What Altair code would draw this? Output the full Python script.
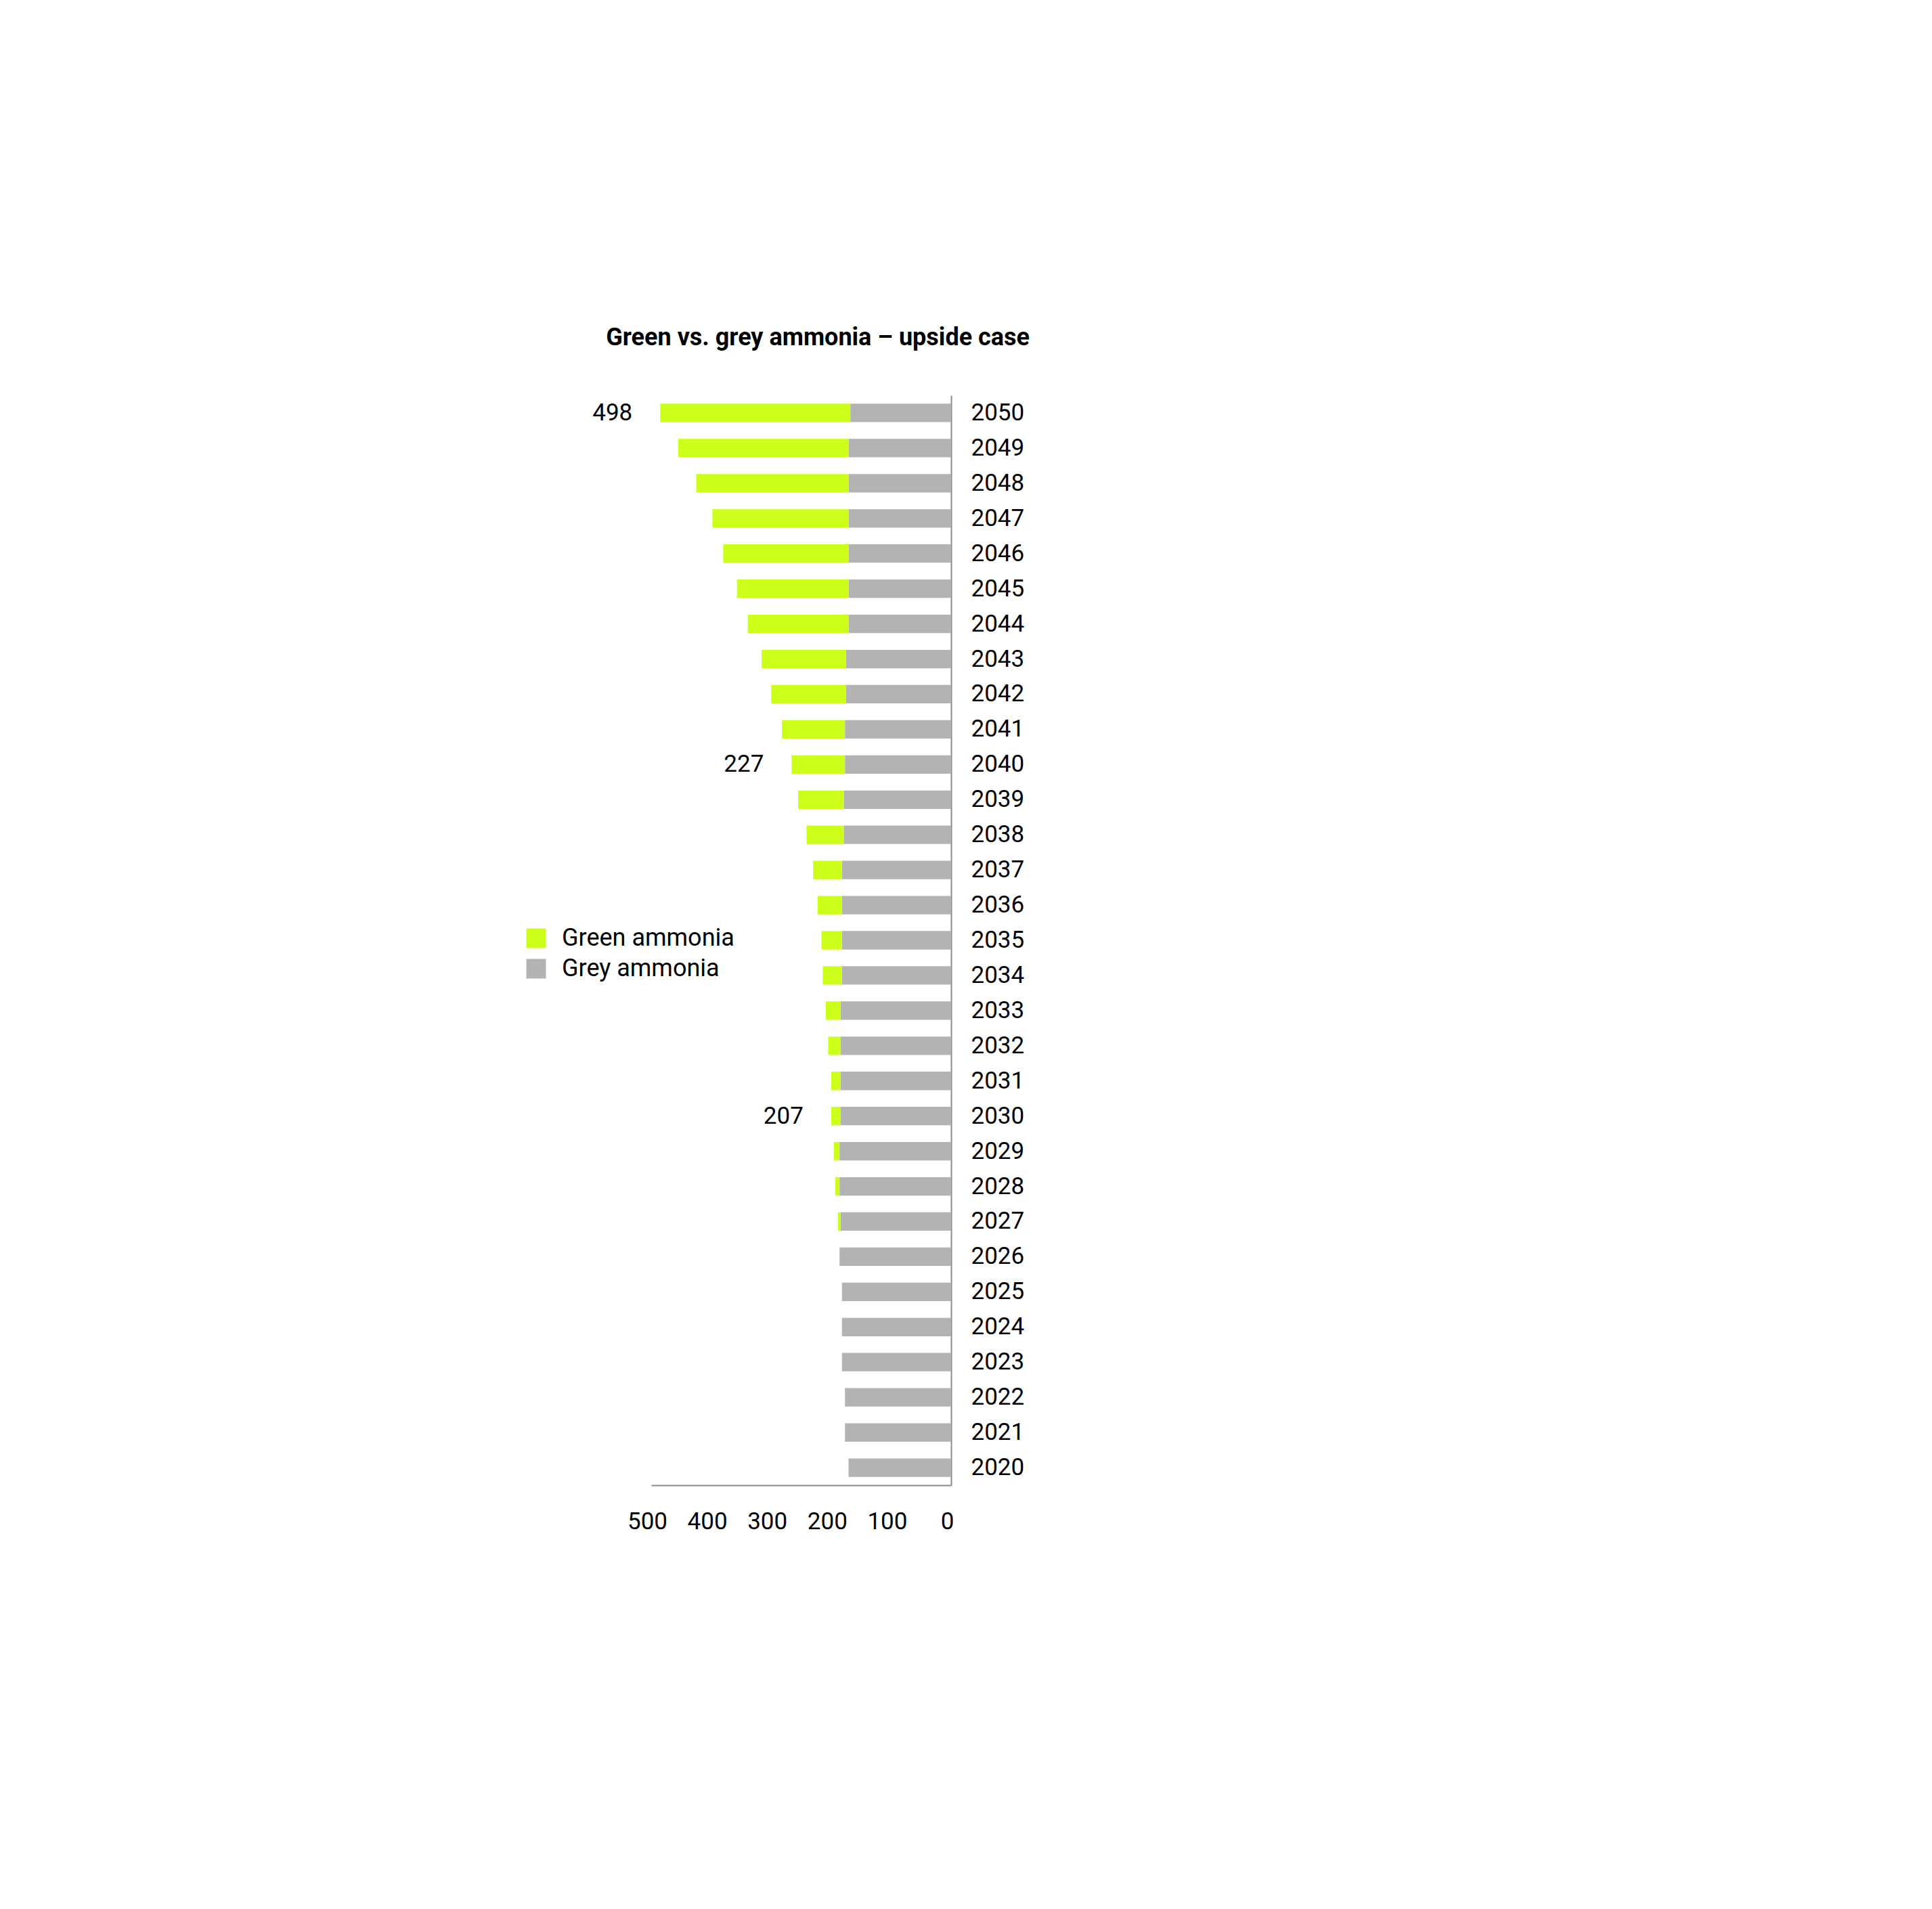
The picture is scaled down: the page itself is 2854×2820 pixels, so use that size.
import altair as alt
import pandas as pd

years = list(range(2020, 2051))
grey = [171, 177, 177, 182, 182, 182, 186, 184, 186, 186,
        184, 184, 184, 184, 182, 182, 182, 182, 179, 179,
        177, 177, 175, 175, 171, 171, 171, 171, 171, 171, 168]
green = [0, 0, 0, 0, 0, 0, 0, 4.6, 7, 9.7,
         16, 16, 21, 25, 32, 34, 40.5, 48, 62, 76,
         89, 105, 125, 141, 168, 186, 209, 227, 254, 284, 317]
label_years = [2050, 2040, 2030]
label_values = [498, 227, 207]
series = ["Green ammonia", "Grey ammonia"]
colors = ["#ccff1a", "#b3b3b3"]
ticks = [0, 100, 200, 300, 400, 500]

rows = []
for y, g, gr in zip(years, grey, green):
    rows.append({"year": str(y), "series": "Grey ammonia", "start": 0, "end": g})
    rows.append({"year": str(y), "series": "Green ammonia", "start": g, "end": g + gr})
df = pd.DataFrame(rows)

tot = {y: g + gr for y, g, gr in zip(years, grey, green)}
lab = pd.DataFrame({"year": [str(y) for y in label_years],
                    "total": [tot[y] for y in label_years],
                    "text": [str(v) for v in label_values]})

FONT = "Roboto"
FS = 35

xscale = alt.Scale(domain=[0, 500], reverse=True, nice=False, zero=True)
ysort = [str(y) for y in sorted(years, reverse=True)]
yscale = alt.Scale(paddingInner=0.475, paddingOuter=0.2375)

bars = alt.Chart(df).mark_bar().encode(
    x=alt.X("start:Q", scale=xscale,
            axis=alt.Axis(values=ticks, title=None, ticks=False, tickSize=0, grid=False,
                          labelFontSize=FS, labelFont=FONT, labelColor="#000000",
                          labelPadding=36, labelFlush=False, labelOverlap=False,
                          labelOffset=-6,
                          domainColor="#8c8c8c", domainWidth=2)),
    x2="end:Q",
    y=alt.Y("year:N", sort=ysort, scale=yscale,
            axis=alt.Axis(orient="right", title=None, ticks=False, tickSize=0, grid=False,
                          labelFontSize=FS, labelFont=FONT, labelColor="#000000",
                          labelPadding=29, labelAlign="left",
                          domainColor="#8c8c8c", domainWidth=2)),
    color=alt.Color("series:N", scale=alt.Scale(domain=series, range=colors),
                    legend=alt.Legend(title=None, orient="none", legendX=-188, legendY=784,
                                      symbolType="square", symbolSize=841,
                                      symbolStrokeWidth=0, labelFontSize=36,
                                      labelFont=FONT, labelColor="#000000",
                                      labelLimit=600,
                                      labelOffset=20, rowPadding=9)),
)

texts = alt.Chart(lab).mark_text(align="right", baseline="middle", dx=-41,
                                 fontSize=FS, font=FONT, color="#000000").encode(
    x=alt.X("total:Q", scale=xscale),
    y=alt.Y("year:N", sort=ysort, scale=yscale),
    text="text:N",
)

chart = alt.layer(bars, texts).properties(
    width=443, height=1610,
    title=alt.TitleParams("Green vs. grey ammonia \u2013 upside case", anchor="end",
                          frame="group",
                          font=FONT, fontSize=36, fontWeight="bold", color="#000000",
                          offset=66, dx=116),
    autosize=alt.AutoSizeParams(type="none"),
    padding={"left": 954, "top": 576, "right": 300, "bottom": 150},
).configure_view(stroke=None)

chart.save("out.html", embed_options={"renderer": "svg", "actions": False})
